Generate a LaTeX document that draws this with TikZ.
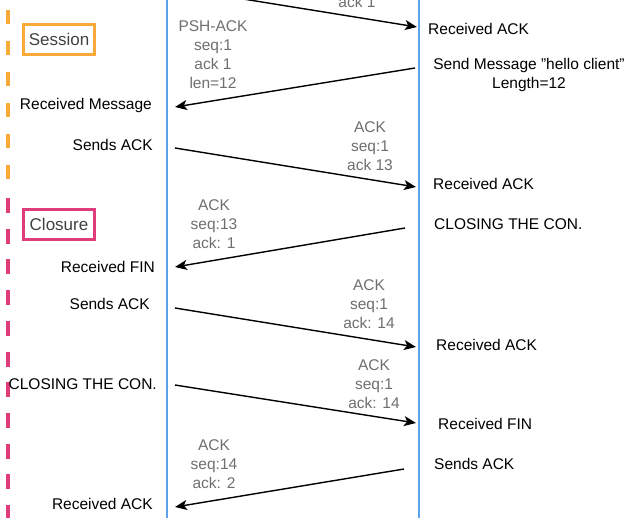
\documentclass[tikz,border=0pt]{standalone}
\usepackage{fontspec}
\setmainfont{Liberation Sans}
\usetikzlibrary{arrows.meta}

\definecolor{lineblue}{HTML}{5AA2EA}
\definecolor{sessorange}{HTML}{F9A83A}
\definecolor{closepink}{HTML}{E03C7C}
\definecolor{flaggray}{HTML}{6E6E6E}

\begin{document}
\begin{tikzpicture}[x=1pt,y=-1pt,
        every node/.style={font=\fontsize{15.5}{19}\selectfont, inner sep=0pt},
        msg/.style={line width=1.4pt, -{Stealth[length=12pt,width=10pt,inset=3pt]}},
        flags/.style={text=flaggray, align=center, anchor=north},
        cli/.style={anchor=base east},
        srv/.style={anchor=base west},
        phasebox/.style={draw=#1, line width=3.5pt, minimum width=71pt, minimum height=30pt,
            text=black!75, font=\fontsize{17}{20}\selectfont}]
        \useasboundingbox (0,0) rectangle (631,517);
        \clip (0,0) rectangle (631,517);
        % phases
        \draw[sessorange, line width=4.5pt, dash pattern=on 14pt off 17pt] (8,-21) -- (8,186);
        \draw[closepink, line width=4.5pt, dash pattern=on 15pt off 15.7pt] (8,198) -- (8,530);
        \node[phasebox=sessorange] (S) at (59,39.5) {Session};
        \node[phasebox=closepink] (C) at (59,224.5) {Closure};
        % lifelines
        \draw[lineblue, line width=1.8pt] (167,-5) -- (167,525);
        \draw[lineblue, line width=1.8pt] (419,-5) -- (419,525);
        % client side
        \node[cli] (cl1) at (152,109) {Received Message};
        \node[cli] (cl2) at (153,150) {Sends ACK};
        \node[cli] (cl3) at (155,272) {Received FIN};
        \node[cli] (cl4) at (150,309) {Sends ACK};
        \node[cli] (cl5) at (157,389) {CLOSING THE CON.};
        \node[cli] (cl6) at (153,509) {Received ACK};
        % server side
        \node[srv] (sv1) at (428,34) {Received ACK};
        \node[align=center, anchor=north] (sv2) at (529,58) {Send Message \char34 hello client\char34\\Length=12};
        \node[srv] (sv3) at (433,189) {Received ACK};
        \node[srv] (sv4) at (434,229) {CLOSING THE CON.};
        \node[srv] (sv5) at (436,350) {Received ACK};
        \node[srv] (sv6) at (438,429) {Received FIN};
        \node[srv] (sv7) at (434,469) {Sends ACK};
        % arrow ends
        \coordinate (c1) at (175,-12);  \coordinate (s1) at (417,27);
        \coordinate (s2) at (415,68);   \coordinate (c2) at (175,107);
        \coordinate (c3) at (175,148);  \coordinate (s3) at (416,187);
        \coordinate (s4) at (405,228);  \coordinate (c4) at (175,267);
        \coordinate (c5) at (175,308);  \coordinate (s5) at (416,347);
        \coordinate (c6) at (175,385);  \coordinate (s6) at (416,423);
        \coordinate (s7) at (404,469);  \coordinate (c7) at (175,507);
        \draw[msg] (c1) -- (s1);
        \draw[msg] (s2) -- (c2);
        \draw[msg] (c3) -- (s3);
        \draw[msg] (s4) -- (c4);
        \draw[msg] (c5) -- (s5);
        \draw[msg] (c6) -- (s6);
        \draw[msg] (s7) -- (c7);
        % segment flags
        \node[text=flaggray, anchor=base] (f1) at (357,7) {ack 1};
        \node[flags] (f2) at (213,20) {PSH-ACK\\seq:1\\ack 1\\len=12};
        \node[flags] (f3) at (370,121) {ACK\\seq:1\\ack 13};
        \node[flags] (f4) at (214,199) {ACK\\seq:13\\ack: 1};
        \node[flags] (f5) at (369,279) {ACK\\seq:1\\ack: 14};
        \node[flags] (f6) at (374,359) {ACK\\seq:1\\ack: 14};
        \node[flags] (f7) at (214,439) {ACK\\seq:14\\ack: 2};
    \end{tikzpicture}
\end{document}
